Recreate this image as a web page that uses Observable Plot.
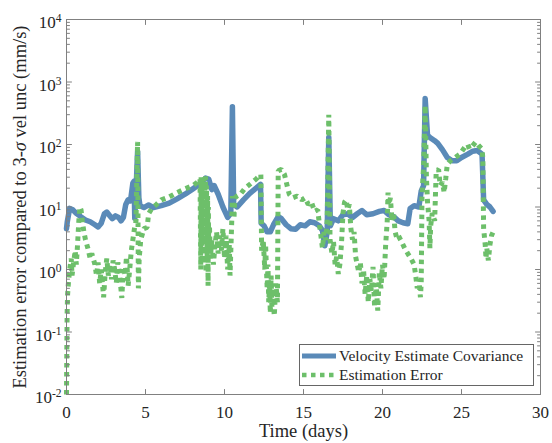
<!DOCTYPE html>
<html>
<head>
<meta charset="utf-8">
<script src="https://cdn.jsdelivr.net/npm/d3@7"></script>
<script src="https://cdn.jsdelivr.net/npm/@observablehq/plot@0.6"></script>
<style>
  html, body { margin: 0; padding: 0; background: #fff; }
</style>
</head>
<body>
<div id="chart"></div>
<script>
// ---- Data ----
const seriesNames = ["Velocity Estimate Covariance", "Estimation Error"];

const covT = [0.0,0.05,0.2,0.4,0.6,0.9,1.2,1.5,1.8,2.0,2.2,2.4,2.55,2.75,2.9,3.1,3.3,3.45,3.6,3.75,3.9,4.05,4.2,4.28,4.32,4.4,4.5,4.58,4.65,4.9,5.2,5.5,6.0,6.5,7.0,7.5,8.0,8.4,8.8,9.0,9.2,9.35,9.6,9.9,10.2,10.4,10.5,10.58,10.8,11.2,11.6,12.0,12.28,12.32,12.5,12.7,12.9,13.1,13.4,13.6,13.9,14.2,14.5,14.8,15.1,15.4,15.7,16.0,16.2,16.35,16.5,16.6,16.7,16.9,17.2,17.5,17.8,18.1,18.4,18.7,19.0,19.4,19.8,20.1,20.4,20.7,21.0,21.3,21.6,21.75,22.0,22.3,22.45,22.6,22.7,22.85,23.0,23.3,23.5,23.8,24.1,24.4,24.7,25.0,25.4,25.7,26.0,26.3,26.4,26.6,26.8,27.0];
const covV = [4.5,5.8,9.5,9.0,8.0,7.0,6.2,5.8,5.2,4.8,5.5,7.8,8.3,7.2,6.5,7.2,6.8,6.0,6.8,11,13,12.5,24,26,6.6,18,78,14,10.5,9.8,10.8,9.8,10.5,11.5,13.5,16,19.5,23,29,28,19,22,16,10,6.8,8,400,11,10,13,16.5,20,23,5.5,5.0,4.0,4.0,5.2,7,6.5,5.2,4.5,4.4,5.2,5.0,5.8,5.6,5.0,4.2,2.4,4,130,5,6.5,6.0,7.5,7.8,6.8,7.8,8.8,7.5,7.8,8.5,8.8,7.5,7.0,6.0,5.6,5.4,9.5,10.5,10,18,22,545,140,130,115,104,82,62,55,55,62,70,78,80,70,13,11,10,8.5];

const errT = [0.0,0.02,0.04,0.07,0.12,0.2,0.3,0.35,0.45,0.55,0.62,0.7,0.78,0.85,0.92,1.0,1.1,1.2,1.35,1.5,1.6,1.8,1.9,2.0,2.1,2.2,2.35,2.45,2.55,2.65,2.75,2.85,2.95,3.05,3.15,3.25,3.35,3.5,3.6,3.7,3.8,3.9,4.0,4.1,4.2,4.3,4.4,4.45,4.5,4.55,4.6,4.7,4.9,5.1,5.2,5.4,5.7,6.0,6.5,7.0,7.5,8.0,8.3,8.45,8.5,8.52,8.55,8.58,8.6,8.63,8.66,8.7,8.72,8.75,8.78,8.8,8.83,8.86,8.9,8.93,8.96,8.98,9.0,9.05,9.1,9.2,9.3,9.4,9.5,9.6,9.7,9.8,9.9,10.0,10.1,10.2,10.3,10.35,10.45,10.5,10.6,10.65,10.8,11.0,11.3,11.6,12.0,12.3,12.35,12.45,12.55,12.6,12.7,12.75,12.8,12.85,12.9,12.95,13.0,13.05,13.15,13.25,13.35,13.4,13.6,13.8,14.0,14.1,14.3,14.6,14.9,15.1,15.3,15.5,15.7,15.9,16.0,16.1,16.2,16.3,16.4,16.5,16.6,16.68,16.8,16.9,17.0,17.1,17.2,17.3,17.4,17.5,17.6,17.7,17.8,17.9,18.0,18.1,18.2,18.3,18.4,18.5,18.6,18.7,18.8,18.9,19.0,19.1,19.2,19.3,19.4,19.5,19.6,19.7,19.8,19.9,20.0,20.1,20.2,20.3,20.35,20.4,20.5,20.6,20.7,20.8,20.9,21.0,21.2,21.4,21.6,21.8,22.0,22.1,22.2,22.3,22.4,22.45,22.5,22.6,22.7,22.78,22.85,22.95,23.0,23.05,23.15,23.3,23.4,23.55,23.65,23.8,23.9,24.0,24.1,24.3,24.6,24.9,25.2,25.4,25.5,25.7,25.9,26.1,26.3,26.35,26.4,26.5,26.55,26.6,26.7,26.8,26.9,27.0];
const errV = [0.01,0.05,0.2,0.4,0.6,1.0,1.5,0.8,1.3,2.0,1.2,2.5,6,10,9,6,4,3,2.2,1.5,1.8,1.2,0.8,1.3,0.6,1.0,0.36,0.9,1.5,0.8,1.2,0.7,1.4,1.0,0.6,1.3,0.9,0.35,1.1,0.8,1.6,0.55,1.0,2.0,3.0,4.5,6,30,110,0.5,1.5,3,4.5,4.7,7.8,9.5,11,13,14.5,17,19.5,22,25,28,1,30,2,28,1.5,25,3,30,1.2,20,2.5,31,0.9,22,1.5,15,0.55,10,2,5,1.5,3,1.2,2.5,4,1.8,3.5,2.0,4.5,1.5,3.5,1.0,2.5,0.8,5,15,6.5,14,15,16,20,23,28,33,2,3,1.0,2.5,0.5,1.2,0.3,0.6,0.2,0.8,0.25,0.5,0.18,0.6,0.3,38,40,33,20,16,14,15,13,14,11,12,8.5,9,5.5,3.5,2.2,4,3,6,300,3,1.8,2.8,1.2,1.6,0.85,1.2,2.5,8,12,13,9,11,4.5,3,4,1.6,1.2,0.9,1.3,0.6,1.0,0.4,0.8,0.3,0.7,0.45,1.1,0.25,0.6,0.22,0.9,0.5,1.2,0.7,2.5,6,17,11,14,6,8,4,3.2,3.5,2.8,2.2,1.8,1.5,1.2,0.8,0.5,0.7,0.36,0.6,15,45,420,30,12,6,2.2,5,8,6,38,40,22,25,17,28,48,55,62,70,90,100,85,95,110,95,85,60,4.5,2.5,1.5,2.2,1.4,2.5,3.5,4];

const xTicks = [0, 5, 10, 15, 20, 25, 30];
const yExponents = [-2, -1, 0, 1, 2, 3, 4];
const xLabel = "Time (days)";
const yLabel = "Estimation error compared to 3-σ vel unc (mm/s)";

// ---- Tables built from the arrays ----
const cov = covT.map((t, i) => ({t, v: covV[i]}));
const err = errT.map((t, i) => ({t, v: errV[i]}));
const yTicks = yExponents.map(e => Math.pow(10, e));
const yMinor = [];
for (const e of yExponents.slice(0, -1)) for (let m = 2; m <= 9; m++) yMinor.push(m * Math.pow(10, e));

const blue = "#5a8ab8";
const green = "#6dbf6a";
const axisGray = "#808080";
const textCol = "#262626";
const font = "Liberation Serif, Times New Roman, serif";

// simple straight tick shape for vector marks
const tickShape = {draw(context, l) { context.moveTo(0, 0); context.lineTo(0, -l); }};
const tickV = (data, channel, anchor, rotate, length) =>
  Plot.vector(data, {[channel]: d => d, frameAnchor: anchor, rotate, length, anchor: "start",
    shape: tickShape, stroke: axisGray, strokeWidth: 1});

const chart = Plot.plot({
  width: 552,
  height: 443,
  marginLeft: 66,
  marginRight: 12,
  marginTop: 19,
  marginBottom: 49,
  style: {fontFamily: font, background: "white", color: textCol, overflow: "visible"},
  x: {domain: [0, 30], label: null},
  y: {type: "log", domain: [1e-2, 1e4], label: null},
  marks: [
    Plot.line(cov, {x: "t", y: "v", stroke: blue, strokeWidth: 5.5, strokeLinejoin: "round", strokeLinecap: "round"}),
    Plot.line(err, {x: "t", y: "v", stroke: green, strokeWidth: 5, strokeDasharray: "4.5,4.5", strokeLinecap: "butt", strokeLinejoin: "miter"}),
    // inward ticks on all four sides
    tickV(xTicks, "x", "bottom", 0, 5),
    tickV(xTicks, "x", "top", 180, 5),
    tickV(yTicks, "y", "left", 90, 5),
    tickV(yTicks, "y", "right", -90, 5),
    tickV(yMinor, "y", "left", 90, 3),
    tickV(yMinor, "y", "right", -90, 3),
    Plot.frame({stroke: axisGray, strokeWidth: 1}),
    // tick labels
    Plot.axisX({anchor: "bottom", ticks: xTicks, tickSize: 0, tickPadding: 11, fontSize: 17, label: null, tickFormat: d => String(d), fill: textCol}),
    Plot.axisY({anchor: "left", ticks: yTicks, tickSize: 0, tickPadding: 5, fontSize: 17, label: null, dy: 3.5, tickFormat: d => "e" + String(Math.round(Math.log10(d))), fill: textCol}),
    // axis titles
    Plot.text([xLabel], {frameAnchor: "bottom", dy: 37, lineAnchor: "middle", textAnchor: "middle", fontSize: 18.5, fill: textCol, text: d => d}),
    Plot.text([yLabel], {frameAnchor: "left", dx: -46, rotate: -90, lineAnchor: "middle", textAnchor: "middle", fontSize: 18.5, fill: textCol, text: d => d})
  ]
});

document.getElementById("chart").appendChild(chart);

const svg = d3.select(chart);

// Superscript exponents for the log tick labels
svg.selectAll('g[aria-label="y-axis tick label"] text').each(function () {
  const s = this.textContent;
  if (s[0] !== "e") return;
  const e = s.slice(1);
  const t = d3.select(this);
  t.text(null);
  t.append("tspan").text("10");
  t.append("tspan").attr("dy", "-0.55em").attr("font-size", "11.5px").text(e);
});

// Italic sigma in the y label
svg.selectAll("text").each(function () {
  const s = this.textContent;
  if (s.indexOf("σ") < 0) return;
  const [a, b] = s.split("σ");
  const t = d3.select(this);
  t.text(null);
  t.append("tspan").text(a);
  t.append("tspan").attr("font-style", "italic").text("σ");
  t.append("tspan").text(b);
});

// Legend (inside the plot, lower right)
const lg = svg.append("g").attr("font-family", font).attr("font-size", 15.5).attr("fill", textCol).attr("text-anchor", "start");
lg.append("rect").attr("x", 299.5).attr("y", 344.5).attr("width", 234).attr("height", 41)
  .attr("fill", "white").attr("stroke", "#666").attr("stroke-width", 1);
const entries = [
  {name: seriesNames[0], color: blue, dash: null, w: 5, y: 356},
  {name: seriesNames[1], color: green, dash: "4.5,4.5", w: 4.5, y: 375}
];
for (const e of entries) {
  lg.append("line").attr("x1", 302).attr("x2", 336).attr("y1", e.y).attr("y2", e.y)
    .attr("stroke", e.color).attr("stroke-width", e.w).attr("stroke-dasharray", e.dash);
  lg.append("text").attr("x", 339).attr("y", e.y).attr("dy", "0.33em").attr("text-anchor", "start").text(e.name);
}
</script>
</body>
</html>
